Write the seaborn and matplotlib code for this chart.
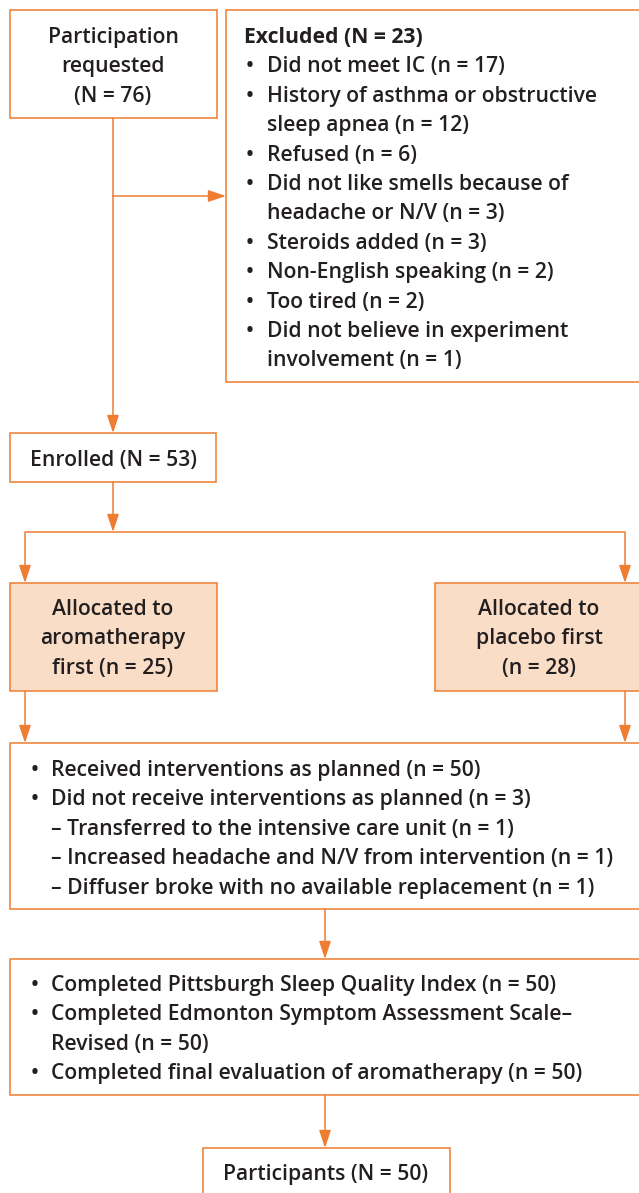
import matplotlib
matplotlib.use("Agg")
import matplotlib.pyplot as plt
import seaborn as sns
from matplotlib.patches import Rectangle

sns.set_theme(style="white")
plt.rcParams["font.family"] = ["Open Sans", "DejaVu Sans"]

ORANGE = "#EE7D31"
PEACH = "#FADDC6"
INK = "#231F20"

# texts of the flow chart
requested_lines = ["Participation", "requested", "(N = 76)"]
excluded_title = "Excluded (N = 23)"
excluded_items = [
    ["Did not meet IC (n = 17)"],
    ["History of asthma or obstructive", "sleep apnea (n = 12)"],
    ["Refused (n = 6)"],
    ["Did not like smells because of", "headache or N/V (n = 3)"],
    ["Steroids added (n = 3)"],
    ["Non-English speaking (n = 2)"],
    ["Too tired (n = 2)"],
    ["Did not believe in experiment", "involvement (n = 1)"],
]
enrolled_text = "Enrolled (N = 53)"
arm_aroma_lines = ["Allocated to", "aromatherapy", "first (n = 25)"]
arm_placebo_lines = ["Allocated to", "placebo first", "(n = 28)"]
intervention_items = [
    ("bullet", "Received interventions as planned (n = 50)"),
    ("bullet", "Did not receive interventions as planned (n = 3)"),
    ("dash", "Transferred to the intensive care unit (n = 1)"),
    ("dash", "Increased headache and N/V from intervention (n = 1)"),
    ("dash", "Diffuser broke with no available replacement (n = 1)"),
]
completed_items = [
    ["Completed Pittsburgh Sleep Quality Index (n = 50)"],
    ["Completed Edmonton Symptom Assessment Scale\u2013", "Revised (n = 50)"],
    ["Completed final evaluation of aromatherapy (n = 50)"],
]
final_text = "Participants (N = 50)"

W, H = 639, 1193
fig = plt.figure(figsize=(W / 100, H / 100), dpi=100)
ax = fig.add_axes([0, 0, 1, 1])
ax.set_xlim(0, W)
ax.set_ylim(H, 0)
ax.axis("off")

FS = 15.2
LH = 29.4


def box(x0, y0, x1, y1, fill="white"):
    ax.add_patch(Rectangle((x0, y0), x1 - x0, y1 - y0, facecolor=fill,
                           edgecolor=ORANGE, linewidth=1.1, zorder=2))


def line(xs, ys):
    ax.plot(xs, ys, color=ORANGE, lw=1.1, zorder=1, solid_capstyle="butt")


def arrow(x0, y0, x1, y1):
    ax.annotate("", xy=(x1, y1), xytext=(x0, y0),
                arrowprops=dict(arrowstyle="-|>,head_length=0.9,head_width=0.3",
                                color=ORANGE, lw=1.1, shrinkA=0, shrinkB=0),
                zorder=3)


def text(x, y, s, ha="left", weight="semibold"):
    ax.text(x, y - 2, s, ha=ha, va="center_baseline", fontsize=FS, color=INK,
            fontweight=weight, zorder=4)


# participation requested
box(10, 10, 217, 118)
for i, s in enumerate(requested_lines):
    text(113, 37 + i * LH, s, ha="center")

# excluded
box(226, 10, W + 5, 382)
text(244, 37, excluded_title, weight="bold")
y = 37 + LH
for item in excluded_items:
    text(246, y, "\u2022")
    for s in item:
        text(267, y, s)
        y += LH

# connectors top
line([113, 113], [118, 196])
arrow(113, 196, 226, 196)
arrow(113, 196, 113, 433)

# enrolled
box(10, 433, 216, 482)
text(113, 460, enrolled_text, ha="center")
arrow(113, 482, 113, 532)
line([25, 625], [532, 532])
arrow(25, 532, 25, 583)
arrow(625, 532, 625, 583)

# arms
box(10, 583, 217, 691, fill=PEACH)
box(435, 583, W + 5, 691, fill=PEACH)
for i, s in enumerate(arm_aroma_lines):
    text(113, 609 + i * LH, s, ha="center")
for i, s in enumerate(arm_placebo_lines):
    text(539, 609 + i * LH, s, ha="center")
arrow(25, 691, 25, 743)
arrow(625, 691, 625, 743)

# interventions
box(10, 743, W + 5, 909)
y = 770
for kind, s in intervention_items:
    if kind == "bullet":
        text(31, y, "\u2022")
        text(51, y, s)
    else:
        text(51, y, "\u2013 " + s)
    y += LH
arrow(325, 909, 325, 959)

# completed
box(10, 959, W + 5, 1095)
y = 985
for item in completed_items:
    text(31, y, "\u2022")
    for s in item:
        text(51, y, s)
        y += LH
arrow(325, 1095, 325, 1148)

# participants
box(203, 1148, 450, H + 5)
text(326, 1174, final_text, ha="center")

fig.savefig("out.png", dpi=100)
